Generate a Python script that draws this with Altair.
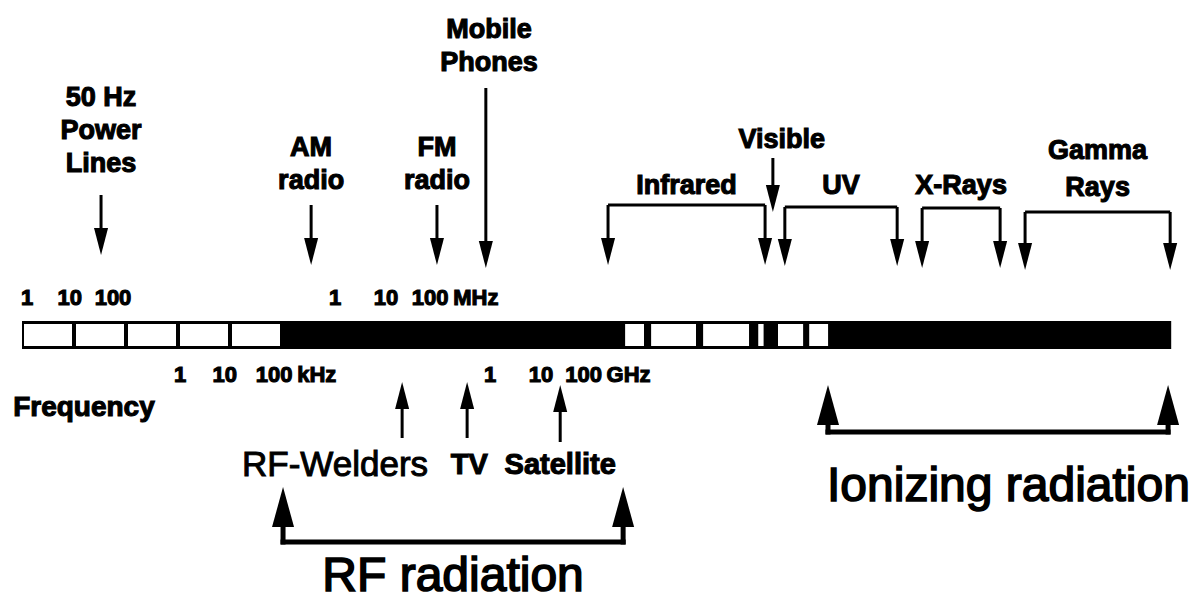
import altair as alt
import pandas as pd

# ---------------- data: x positions are log10(frequency / Hz) ----------------
bar_from = [0.0]
bar_to = [22.1]

box_from = [0, 1, 2, 3, 4, 11.56, 12.06, 13.06, 14.12, 14.5, 15.1]
box_to = [1, 2, 3, 4, 5, 12.0, 13.0, 14.02, 14.3, 15.06, 15.54]

upper_num = ["1", "10", "100", "1", "10", "100"]
upper_num_pos = [0.1, 0.92, 1.75, 6.02, 7.0, 7.85]
lower_num = ["1", "10", "100", "1", "10", "100"]
lower_num_pos = [3.04, 3.9, 4.85, 9.0, 9.98, 10.8]
unit_text = ["kHz", "MHz", "GHz"]
unit_row = ["lower", "upper", "lower"]
unit_after = [4.85, 7.85, 10.8]

source_text = ["50 Hz\nPower\nLines", "AM\nradio", "FM\nradio", "Mobile\nPhones", "Visible"]
source_pos = [1.52, 5.56, 7.98, 8.92, 14.44]

band_text = ["Infrared", "UV", "X-Rays", "Gamma\nRays"]
band_from = [11.27, 14.67, 17.31, 19.29]
band_to = [14.29, 16.83, 18.81, 22.08]

device_text = ["RF-Welders", "TV", "Satellite"]
device_pos = [7.31, 8.56, 10.35]
device_text_pos = [6.02, 8.6, 10.35]

region_text = ["RF radiation", "Ionizing radiation"]
region_from = [5.02, 15.5]
region_to = [11.56, 22.04]

axis_title = "Frequency"

# ---------------- layout (vertical rows of the diagram, page px) ----------------
BAR_TOP, BAR_BOT = 321, 349
BOX_TOP, BOX_BOT = 324, 346
UPPER_ROW, LOWER_ROW = 298, 375
FREQ_ROW, FREQ_X = 408, -0.17
source_label_y = [98, 148, 148, 30, 140]      # first text line
source_shaft_top = [195, 205, 205, 88, 158]
source_tip = [255, 265, 265, 268, 212]
band_label_y = [186, 186, 186, 151]
band_line_y = [205, 207, 208, 212]
band_tip = [265, 266, 268, 270]
device_tip = [382, 382, 385]
device_bottom = [438, 438, 442]
DEVICE_LABEL_Y = 465
region_tip = [487, 385]
region_line = [542, 432]
region_label_y = [577, 487]
region_label_shift = [0, 0.2]

FONT = "Liberation Sans"
HEAD = 27          # small arrow-head length in px
BIG = 40           # big arrow-head length in px

XS = alt.Scale(domain=[(8 - 22) / 52, (1192 - 22) / 52])
YS = alt.Scale(domain=[8, 606], reverse=True)


def ex(f):
    return alt.X(f"{f}:Q", scale=XS, axis=None)


def ey(f):
    return alt.Y(f"{f}:Q", scale=YS, axis=None)


DOWN = "M-0.52,-1L0.52,-1L0,1Z"
UP = "M-0.52,1L0.52,1L0,-1Z"
BIGUP = "M-0.55,1L0.55,1L0,-1Z"

BOLD = dict(font=FONT, fontWeight="bold", stroke="black", strokeWidth=1.1)

layers = []

# ---- frequency bar ----
bar = pd.DataFrame({"a": bar_from, "b": bar_to, "t": [BAR_TOP], "u": [BAR_BOT]})
layers.append(alt.Chart(bar).mark_rect(color="black").encode(
    x=ex("a"), x2="b", y=ey("t"), y2="u"))
boxes = pd.DataFrame({"a": box_from, "b": box_to,
                      "t": [BOX_TOP] * len(box_from), "u": [BOX_BOT] * len(box_from)})
layers.append(alt.Chart(boxes).mark_rect(color="white", xOffset=2, x2Offset=-2).encode(
    x=ex("a"), x2="b", y=ey("t"), y2="u"))

# ---- tick labels ----
ticks = pd.DataFrame({
    "txt": upper_num + lower_num,
    "x": upper_num_pos + lower_num_pos,
    "y": [UPPER_ROW] * len(upper_num) + [LOWER_ROW] * len(lower_num)})
layers.append(alt.Chart(ticks).mark_text(
    fontSize=22, align="center", baseline="middle", **BOLD).encode(
    x=ex("x"), y=ey("y"), text="txt:N"))
units = pd.DataFrame({"txt": unit_text, "x": unit_after,
                      "y": [UPPER_ROW if r == "upper" else LOWER_ROW for r in unit_row]})
layers.append(alt.Chart(units).mark_text(
    fontSize=22, align="left", baseline="middle", dx=23, **BOLD).encode(
    x=ex("x"), y=ey("y"), text="txt:N"))
freq = pd.DataFrame({"txt": [axis_title], "x": [FREQ_X], "y": [FREQ_ROW]})
layers.append(alt.Chart(freq).mark_text(
    fontSize=28, align="left", baseline="middle", **BOLD).encode(
    x=ex("x"), y=ey("y"), text="txt:N"))

# ---- sources (down arrows) ----
src = pd.DataFrame({"txt": source_text, "x": source_pos, "ly": source_label_y,
                    "t": source_shaft_top, "tip": source_tip})
src["hy"] = src["tip"] - HEAD / 2
src["sb"] = src["tip"] - HEAD + 2
src["lx"] = src["x"] + [0, 0, 0, 0.06, 0.17]
layers.append(alt.Chart(src).mark_text(
    fontSize=27, align="center", baseline="middle", lineBreak="\n", lineHeight=33,
    **BOLD).encode(x=ex("lx"), y=ey("ly"), text="txt:N"))
layers.append(alt.Chart(src).mark_rule(color="black", strokeWidth=3).encode(
    x=ex("x"), y=ey("t"), y2="sb"))
layers.append(alt.Chart(src).mark_point(shape=DOWN, filled=True, color="black",
                                        opacity=1, strokeWidth=0).encode(
    x=ex("x"), y=ey("hy"), size=alt.value(HEAD * HEAD)))

# ---- spectral bands (brackets) ----
bands = pd.DataFrame({"txt": band_text, "a": band_from, "b": band_to,
                      "ly": band_label_y, "ln": band_line_y, "tip": band_tip})
bands["mid"] = (bands["a"] + bands["b"]) / 2
layers.append(alt.Chart(bands).mark_text(
    fontSize=27, align="center", baseline="middle", lineBreak="\n", lineHeight=37,
    **BOLD).encode(x=ex("mid"), y=ey("ly"), text="txt:N"))
layers.append(alt.Chart(bands).mark_rule(color="black", strokeWidth=3).encode(
    x=ex("a"), x2="b", y=ey("ln")))
ends = pd.concat([
    bands[["a", "ln", "tip"]].rename(columns={"a": "x"}),
    bands[["b", "ln", "tip"]].rename(columns={"b": "x"})], ignore_index=True)
ends["hy"] = ends["tip"] - HEAD / 2
ends["sb"] = ends["tip"] - HEAD + 2
layers.append(alt.Chart(ends).mark_rule(color="black", strokeWidth=3).encode(
    x=ex("x"), y=ey("ln"), y2="sb"))
layers.append(alt.Chart(ends).mark_point(shape=DOWN, filled=True, color="black",
                                         opacity=1, strokeWidth=0).encode(
    x=ex("x"), y=ey("hy"), size=alt.value(HEAD * HEAD)))

# ---- devices (up arrows) ----
dev = pd.DataFrame({"txt": device_text, "x": device_pos, "lx": device_text_pos,
                    "tip": device_tip, "bot": device_bottom})
dev["hy"] = dev["tip"] + HEAD / 2
dev["st"] = dev["tip"] + HEAD - 2
dev["ly"] = DEVICE_LABEL_Y
layers.append(alt.Chart(dev).mark_rule(color="black", strokeWidth=3).encode(
    x=ex("x"), y=ey("st"), y2="bot"))
layers.append(alt.Chart(dev).mark_point(shape=UP, filled=True, color="black",
                                        opacity=1, strokeWidth=0).encode(
    x=ex("x"), y=ey("hy"), size=alt.value(HEAD * HEAD)))
layers.append(alt.Chart(dev[dev["txt"] == "RF-Welders"]).mark_text(
    font=FONT, fontSize=35, stroke="black", strokeWidth=1.0,
    align="center", baseline="middle").encode(x=ex("lx"), y=ey("ly"), text="txt:N"))
layers.append(alt.Chart(dev[dev["txt"] != "RF-Welders"]).mark_text(
    fontSize=29, align="center", baseline="middle", **BOLD).encode(
    x=ex("lx"), y=ey("ly"), text="txt:N"))

# ---- radiation regions (big brackets) ----
reg = pd.DataFrame({"txt": region_text, "a": region_from, "b": region_to,
                    "tip": region_tip, "ln": region_line, "ly": region_label_y})
reg["mid"] = (reg["a"] + reg["b"]) / 2 + region_label_shift
layers.append(alt.Chart(reg).mark_rule(color="black", strokeWidth=5, strokeCap="square").encode(
    x=ex("a"), x2="b", y=ey("ln")))
rends = pd.concat([
    reg[["a", "ln", "tip"]].rename(columns={"a": "x"}),
    reg[["b", "ln", "tip"]].rename(columns={"b": "x"})], ignore_index=True)
rends["hy"] = rends["tip"] + BIG / 2
rends["st"] = rends["tip"] + BIG - 4
layers.append(alt.Chart(rends).mark_rule(color="black", strokeWidth=5, strokeCap="square").encode(
    x=ex("x"), y=ey("st"), y2="ln"))
layers.append(alt.Chart(rends).mark_point(shape=BIGUP, filled=True, color="black",
                                          opacity=1, strokeWidth=0).encode(
    x=ex("x"), y=ey("hy"), size=alt.value(BIG * BIG)))
layers.append(alt.Chart(reg).mark_text(
    font=FONT, fontSize=48, stroke="black", strokeWidth=1.6,
    align="center", baseline="middle").encode(x=ex("mid"), y=ey("ly"), text="txt:N"))

chart = alt.layer(*layers).properties(
    width=1184, height=598, padding=0,
    autosize=alt.AutoSizeParams(type="none"),
    background="white",
).configure_view(stroke=None)

chart.save("out.html", embed_options={"renderer": "svg", "actions": False})
